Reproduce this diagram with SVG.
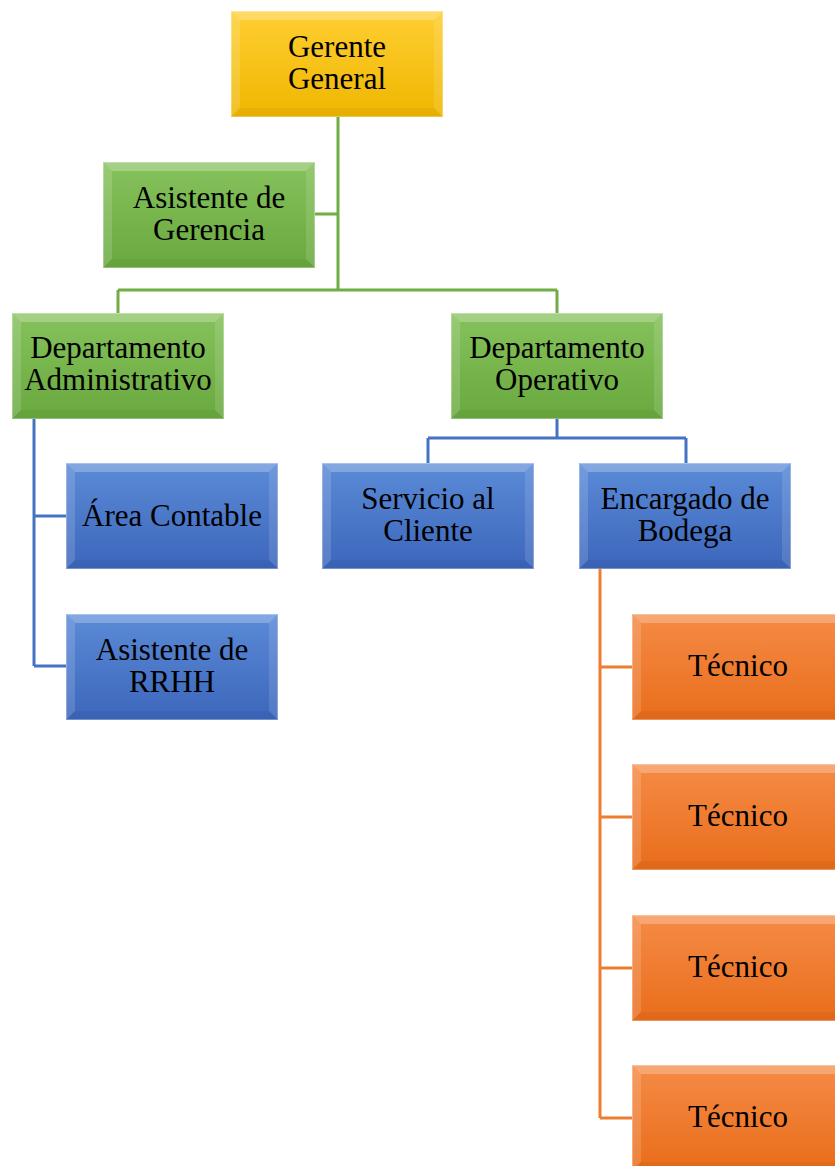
<svg xmlns="http://www.w3.org/2000/svg" xmlns:xlink="http://www.w3.org/1999/xlink" width="835" height="1166" viewBox="0 0 835 1166">
<style>
text{font-family:"Liberation Serif","Times New Roman",serif;font-size:31px;fill:#000;text-anchor:middle}
.cg{stroke:#70AD47;stroke-width:3;fill:none}
.cb{stroke:#4472C4;stroke-width:3;fill:none}
.co{stroke:#ED7D31;stroke-width:3;fill:none}
</style>
<defs>
<linearGradient id="gy" x1="0" y1="0" x2="0" y2="1"><stop offset="0" stop-color="#FFCE33"/><stop offset="1" stop-color="#EFB700"/></linearGradient>
<linearGradient id="gg" x1="0" y1="0" x2="0" y2="1"><stop offset="0" stop-color="#86C25C"/><stop offset="1" stop-color="#69A93E"/></linearGradient>
<linearGradient id="gb" x1="0" y1="0" x2="0" y2="1"><stop offset="0" stop-color="#5B8BD7"/><stop offset="1" stop-color="#3C66BB"/></linearGradient>
<linearGradient id="go" x1="0" y1="0" x2="0" y2="1"><stop offset="0" stop-color="#F58B46"/><stop offset="1" stop-color="#E96D1B"/></linearGradient>
<g id="bevel">
<polygon points="0,0 212,0 203,9 9,9" fill="#fff" fill-opacity="0.25"/>
<polygon points="0,0 9,9 9,97 0,106" fill="#fff" fill-opacity="0.15"/>
<polygon points="212,0 212,106 203,97 203,9" fill="#fff" fill-opacity="0.12"/>
<polygon points="0,106 212,106 203,97 9,97" fill="#000" fill-opacity="0.04"/>
<rect x="0.5" y="0.5" width="211" height="105" fill="none" stroke="#fff" stroke-opacity="0.3"/>
</g>
</defs>
<g id="connectors">
<path class="cg" d="M338,117 V290 M315,214 H338 M118,290 H557 M118,290 V313 M557,290 V313"/>
<path class="cb" d="M34,418 V666 M34,516 H66 M34,666 H66"/>
<path class="cb" d="M557,418 V438 M428,438 H686 M428,438 V463 M686,438 V463"/>
<path class="co" d="M600,569 V1118 M600,667 H632 M600,817 H632 M600,968 H632 M600,1118 H632"/>
</g>
<g id="gerente-general">
<rect x="231" y="11" width="212" height="106" fill="url(#gy)"/>
<use xlink:href="#bevel" x="231" y="11"/>
<text x="337" y="57">Gerente</text><text x="337" y="89">General</text>
</g>
<g id="asistente-gerencia">
<rect x="103" y="162" width="212" height="106" fill="url(#gg)"/>
<use xlink:href="#bevel" x="103" y="162"/>
<text x="209" y="208">Asistente de</text><text x="209" y="240">Gerencia</text>
</g>
<g id="depto-administrativo">
<rect x="12" y="313" width="212" height="106" fill="url(#gg)"/>
<use xlink:href="#bevel" x="12" y="313"/>
<text x="118" y="358">Departamento</text><text x="118" y="390">Administrativo</text>
</g>
<g id="depto-operativo">
<rect x="451" y="313" width="212" height="106" fill="url(#gg)"/>
<use xlink:href="#bevel" x="451" y="313"/>
<text x="557" y="358">Departamento</text><text x="557" y="390">Operativo</text>
</g>
<g id="area-contable">
<rect x="66" y="463" width="212" height="106" fill="url(#gb)"/>
<use xlink:href="#bevel" x="66" y="463"/>
<text x="172" y="526">Área Contable</text>
</g>
<g id="asistente-rrhh">
<rect x="66" y="614" width="212" height="106" fill="url(#gb)"/>
<use xlink:href="#bevel" x="66" y="614"/>
<text x="172" y="660">Asistente de</text><text x="172" y="692">RRHH</text>
</g>
<g id="servicio-cliente">
<rect x="322" y="463" width="212" height="106" fill="url(#gb)"/>
<use xlink:href="#bevel" x="322" y="463"/>
<text x="428" y="509">Servicio al</text><text x="428" y="541">Cliente</text>
</g>
<g id="encargado-bodega">
<rect x="579" y="463" width="212" height="106" fill="url(#gb)"/>
<use xlink:href="#bevel" x="579" y="463"/>
<text x="685" y="509">Encargado de</text><text x="685" y="541">Bodega</text>
</g>
<g id="tecnico-1">
<rect x="632" y="614" width="212" height="106" fill="url(#go)"/>
<use xlink:href="#bevel" x="632" y="614"/>
<text x="738" y="676">Técnico</text>
</g>
<g id="tecnico-2">
<rect x="632" y="764" width="212" height="106" fill="url(#go)"/>
<use xlink:href="#bevel" x="632" y="764"/>
<text x="738" y="826">Técnico</text>
</g>
<g id="tecnico-3">
<rect x="632" y="915" width="212" height="106" fill="url(#go)"/>
<use xlink:href="#bevel" x="632" y="915"/>
<text x="738" y="977">Técnico</text>
</g>
<g id="tecnico-4">
<rect x="632" y="1065" width="212" height="106" fill="url(#go)"/>
<use xlink:href="#bevel" x="632" y="1065"/>
<text x="738" y="1127">Técnico</text>
</g>
</svg>
